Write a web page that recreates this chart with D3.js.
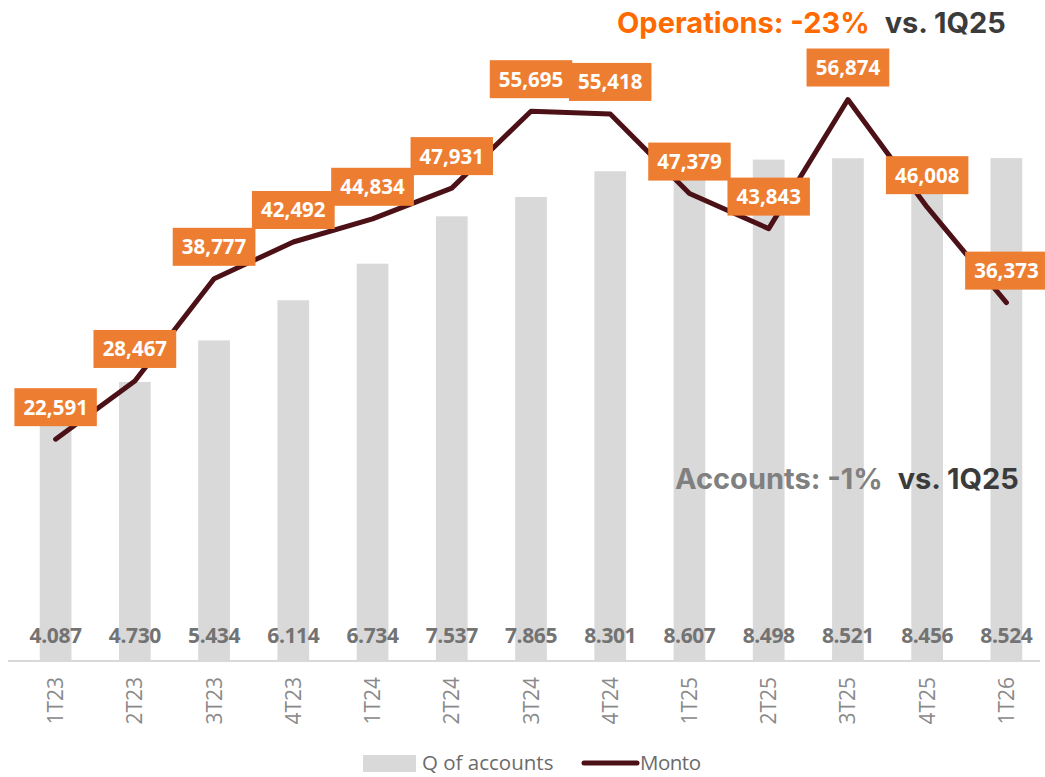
<!DOCTYPE html>
<html>
<head>
<meta charset="utf-8">
<script src="https://cdn.jsdelivr.net/npm/d3@7"></script>
<style>
  html, body { margin: 0; padding: 0; background: #fff; }
  svg { display: block; }
</style>
</head>
<body>
<svg id="chart" width="1045" height="777"></svg>
<script>
// Quarterly data
const quarters = ["1T23","2T23","3T23","4T23","1T24","2T24","3T24","4T24","1T25","2T25","3T25","4T25","1T26"];
const accounts = [4.087, 4.730, 5.434, 6.114, 6.734, 7.537, 7.865, 8.301, 8.607, 8.498, 8.521, 8.456, 8.524];
const monto = [22591, 28467, 38777, 42492, 44834, 47931, 55695, 55418, 47379, 43843, 56874, 46008, 36373];
const accountLabels = ["4.087","4.730","5.434","6.114","6.734","7.537","7.865","8.301","8.607","8.498","8.521","8.456","8.524"];
const legendItems = ["Q of accounts", "Monto"];

const W = 1045, H = 777;
const svg = d3.select("#chart");

const labelFont = "'Open Sans', 'Liberation Sans', sans-serif";
const headFont = "Inter, 'Liberation Sans', sans-serif";

const x = d3.scaleBand().domain(quarters).range([16, 1046]).paddingInner(0.6).paddingOuter(0.3);
const yBar = d3.scaleLinear().domain([0, 11]).range([661, 12]);
const yLine = d3.scaleLinear().domain([0, 65000]).range([663, 19]);

// Bars
svg.append("g").selectAll("rect").data(quarters).join("rect")
  .attr("x", d => x(d))
  .attr("width", x.bandwidth())
  .attr("y", (d, i) => yBar(accounts[i]))
  .attr("height", (d, i) => yBar(0) - yBar(accounts[i]))
  .attr("fill", "#d9d9d9");

// Category axis
const xAxis = svg.append("g").attr("transform", `translate(0,${yBar(0)})`)
  .call(d3.axisBottom(x).tickSize(0).tickPadding(0));
xAxis.select(".domain").remove();
xAxis.append("line").attr("x1", 8).attr("x2", 1040).attr("y1", 0).attr("y2", 0)
  .attr("stroke", "#d9d9d9").attr("stroke-width", 2);
xAxis.selectAll(".tick text")
  .attr("transform", "rotate(-90)")
  .attr("text-anchor", "end")
  .attr("x", -16)
  .attr("y", 0)
  .attr("dy", "0.36em")
  .attr("fill", "#8a8a8a")
  .style("font-family", labelFont)
  .style("font-size", "21px");

// Account value labels near the base of each bar
svg.append("g").selectAll("text").data(quarters).join("text")
  .attr("x", d => x(d) + x.bandwidth() / 2)
  .attr("y", 643)
  .attr("text-anchor", "middle")
  .attr("fill", "#737373")
  .style("font-family", labelFont)
  .style("font-weight", "bold")
  .style("font-size", "21px")
  .style("letter-spacing", "-0.4px")
  .text((d, i) => accountLabels[i]);

// Monto line
const line = d3.line()
  .x((d, i) => x(quarters[i]) + x.bandwidth() / 2)
  .y(d => yLine(d));
svg.append("path").datum(monto)
  .attr("d", line)
  .attr("fill", "none")
  .attr("stroke", "#4c1116")
  .attr("stroke-width", 5)
  .attr("stroke-linejoin", "round")
  .attr("stroke-linecap", "round");

// Monto value labels in orange boxes
const fmt = d3.format(",");
const lbl = svg.append("g").selectAll("g").data(monto).join("g")
  .attr("transform", (d, i) => `translate(${x(quarters[i]) + x.bandwidth() / 2},${yLine(d) - 32})`);
lbl.append("text")
  .attr("text-anchor", "middle")
  .attr("dy", "0.36em")
  .attr("fill", "#ffffff")
  .style("font-family", labelFont)
  .style("font-weight", "bold")
  .style("font-size", "20.5px")
  .text(d => fmt(d));
lbl.each(function() {
  const g = d3.select(this);
  const bb = g.select("text").node().getBBox();
  const w = bb.width + 18;
  g.insert("rect", "text")
    .attr("x", -w / 2).attr("y", -19)
    .attr("width", w).attr("height", 38)
    .attr("fill", "#ed7d31");
});

// Headline annotations
const ops = svg.append("text").attr("x", 617).attr("y", 33)
  .style("font-family", headFont).style("font-weight", "bold").style("font-size", "29px");
ops.append("tspan").attr("fill", "#ff6a00").text("Operations: -23%");
ops.append("tspan").attr("fill", "#3b3b3b").attr("dx", 15).text("vs. 1Q25");

const acc = svg.append("text").attr("x", 675).attr("y", 489)
  .style("font-family", headFont).style("font-weight", "bold").style("font-size", "29px");
acc.append("tspan").attr("fill", "#808080").text("Accounts: -1%");
acc.append("tspan").attr("fill", "#3b3b3b").attr("dx", 15).text("vs. 1Q25");

// Legend
const leg = svg.append("g");
leg.append("rect").attr("x", 363).attr("y", 755).attr("width", 53).attr("height", 17).attr("fill", "#d9d9d9");
leg.append("text").attr("x", 422).attr("y", 770)
  .attr("fill", "#6b6b6b").style("font-family", labelFont).style("font-size", "20.5px")
  .text(legendItems[0]);
leg.append("line").attr("x1", 584).attr("x2", 637).attr("y1", 763).attr("y2", 763)
  .attr("stroke", "#4c1116").attr("stroke-width", 5).attr("stroke-linecap", "round");
leg.append("text").attr("x", 640).attr("y", 770)
  .attr("fill", "#6b6b6b").style("font-family", labelFont).style("font-size", "20.5px")
  .style("letter-spacing", "-0.5px")
  .text(legendItems[1]);
</script>
</body>
</html>
